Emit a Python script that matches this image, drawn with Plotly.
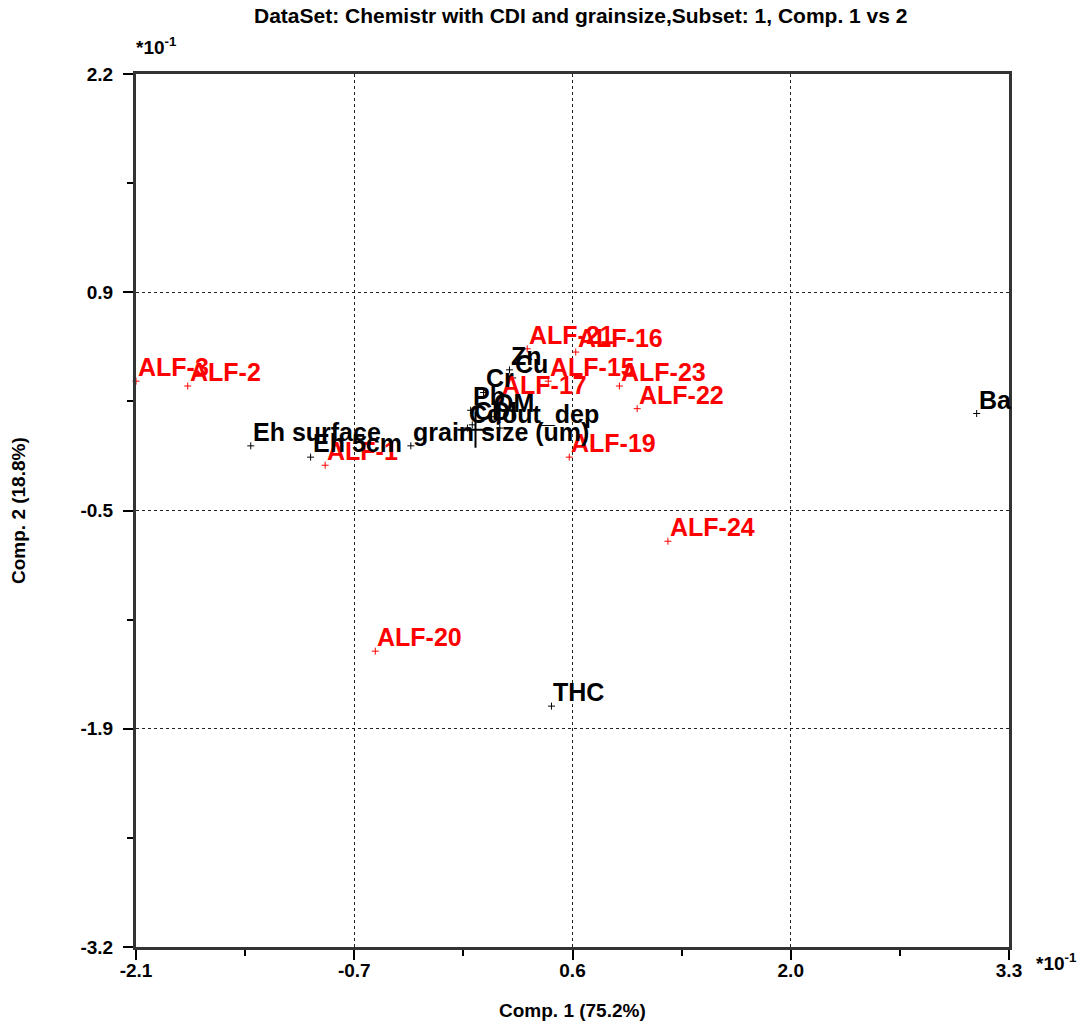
import plotly.graph_objects as go

# --- data (units of 10^-1) ---
sample_labels = ["ALF-3", "ALF-2", "ALF-1", "ALF-21", "ALF-16", "ALF-15", "ALF-23",
                 "ALF-22", "ALF-19", "ALF-17", "ALF-20", "ALF-24"]
sample_x = [-2.10, -1.78, -0.93, 0.32, 0.62, 0.45, 0.89, 1.00, 0.58, 0.15, -0.62, 1.19]
sample_y = [0.30, 0.27, -0.22, 0.50, 0.48, 0.30, 0.27, 0.13, -0.17, 0.19, -1.37, -0.69]

var_labels = ["Ba", "THC", "Eh surface", "Eh 5cm", "grain size (um)", "Zn", "Cu", "Cr",
              "Pb", "OM", "Cd", "CDI", "out_dep"]
var_x = [3.10, 0.47, -1.39, -1.02, -0.40, 0.21, 0.23, 0.05, -0.03, 0.10, -0.05, -0.02, 0.15]
var_y = [0.10, -1.71, -0.10, -0.17, -0.10, 0.37, 0.32, 0.23, 0.12, 0.08, 0.01, 0.03, 0.01]

origin_x = [0.0]
origin_y = [0.0]

x_range = [-2.1, 3.3]
y_range = [-3.2, 2.2]
x_tick_vals = [-2.1, -0.75, 0.6, 1.95, 3.3]
x_tick_text = ["-2.1", "-0.7", "0.6", "2.0", "3.3"]
x_minor_vals = [-1.425, -0.075, 1.275, 2.625]
y_tick_vals = [-3.2, -1.85, -0.5, 0.85, 2.2]
y_tick_text = ["-3.2", "-1.9", "-0.5", "0.9", "2.2"]
y_minor_vals = [-2.525, -1.175, 0.175, 1.525]

title_text = "DataSet: Chemistr with CDI and grainsize,Subset: 1, Comp. 1 vs 2"
x_title = "Comp. 1 (75.2%)"
y_title = "Comp. 2 (18.8%)"

FONT = "Arial, Liberation Sans, sans-serif"
W, H = 1080, 1023
ML, MR, MT, MB = 136, 71, 74, 76
PW, PH = W - ML - MR, H - MT - MB
LABEL_SIZE = 25

fig = go.Figure()

fig.add_trace(go.Scatter(
    x=sample_x, y=sample_y, mode="markers",
    marker=dict(symbol="cross-thin", size=5, color="red", line=dict(color="red", width=1)),
    cliponaxis=False, showlegend=False, text=sample_labels, hoverinfo="text"))

fig.add_trace(go.Scatter(
    x=var_x, y=var_y, mode="markers",
    marker=dict(symbol="cross-thin", size=5, color="black", line=dict(color="black", width=1)),
    cliponaxis=False, showlegend=False, text=var_labels, hoverinfo="text"))

fig.add_trace(go.Scatter(
    x=origin_x, y=origin_y, mode="markers",
    marker=dict(symbol="cross-thin", size=26, color="black", line=dict(color="black", width=2)),
    showlegend=False, hoverinfo="skip"))

axis_common = dict(
    showline=True, linecolor="#333333", linewidth=3, mirror=True,
    ticks="outside", ticklen=10, tickwidth=2, tickcolor="black",
    showgrid=True, gridcolor="#222222", gridwidth=1, griddash="dot",
    zeroline=False,
    tickfont=dict(family=FONT, size=19, color="black", weight="bold"),
)

fig.update_xaxes(range=x_range, tickmode="array", tickvals=x_tick_vals, ticktext=x_tick_text,
                 minor=dict(tickmode="array", tickvals=x_minor_vals, ticks="outside",
                            ticklen=6, tickwidth=2, tickcolor="black", showgrid=False),
                 ticklabelstandoff=-6, **axis_common)
fig.update_yaxes(range=y_range, tickmode="array", tickvals=y_tick_vals, ticktext=y_tick_text,
                 minor=dict(tickmode="array", tickvals=y_minor_vals, ticks="outside",
                            ticklen=6, tickwidth=2, tickcolor="black", showgrid=False),
                 ticklabelstandoff=6, **axis_common)

annotations = []
for lx, ly, lt in zip(sample_x, sample_y, sample_labels):
    annotations.append(dict(x=lx, y=ly, xref="x", yref="y", text=lt, showarrow=False,
                            xanchor="left", yanchor="bottom", xshift=0, yshift=-2,
                            font=dict(family=FONT, size=LABEL_SIZE, color="#ff0000", weight="bold")))
for lx, ly, lt in zip(var_x, var_y, var_labels):
    annotations.append(dict(x=lx, y=ly, xref="x", yref="y", text=lt, showarrow=False,
                            xanchor="left", yanchor="bottom", xshift=0, yshift=-2,
                            font=dict(family=FONT, size=LABEL_SIZE, color="black", weight="bold")))

annotations += [
    dict(text=title_text, xref="paper", yref="paper", x=(580 - ML) / PW, y=1 + (MT - 15) / PH,
         xanchor="center", yanchor="middle", showarrow=False,
         font=dict(family=FONT, size=21, color="black", weight="bold")),
    dict(text=x_title, xref="paper", yref="paper", x=(572 - ML) / PW, y=-(1010 - (H - MB)) / PH,
         xanchor="center", yanchor="middle", showarrow=False,
         font=dict(family=FONT, size=19, color="black", weight="bold")),
    dict(text=y_title, xref="paper", yref="paper", x=(18 - ML) / PW, y=1 - (511 - MT) / PH,
         xanchor="center", yanchor="middle", showarrow=False, textangle=-90,
         font=dict(family=FONT, size=19, color="black", weight="bold")),
    dict(text="*10<sup>-1</sup>", xref="paper", yref="paper", x=(134 - ML) / PW, y=1 + (MT - 46) / PH,
         xanchor="left", yanchor="middle", showarrow=False,
         font=dict(family=FONT, size=19, color="black", weight="bold")),
    dict(text="*10<sup>-1</sup>", xref="paper", yref="paper", x=(1034 - ML) / PW, y=-(962 - (H - MB)) / PH,
         xanchor="left", yanchor="middle", showarrow=False,
         font=dict(family=FONT, size=19, color="black", weight="bold")),
]

fig.update_layout(
    width=W, height=H, margin=dict(l=ML, r=MR, t=MT, b=MB, autoexpand=False),
    paper_bgcolor="white", plot_bgcolor="white",
    annotations=annotations,
    font=dict(family=FONT, color="black"),
)

fig.write_html("out.html")
